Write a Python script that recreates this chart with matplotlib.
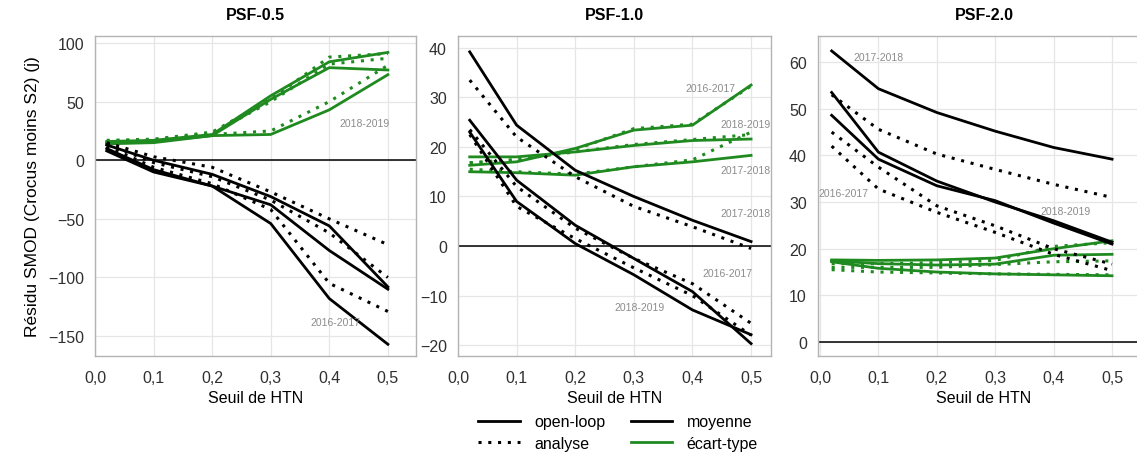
import numpy as np
import matplotlib
matplotlib.use('Agg')
import matplotlib.pyplot as plt
from matplotlib.lines import Line2D
from matplotlib.ticker import FuncFormatter

plt.rcParams['font.family'] = ['Liberation Sans', 'DejaVu Sans']

seuils = [0.02, 0.1, 0.2, 0.3, 0.4, 0.5]
annees = ['2016-2017', '2017-2018', '2018-2019']
psf_titles = ['PSF-0.5', 'PSF-1.0', 'PSF-2.0']

# moyenne (black) : open-loop / analyse for each year
psf05_moy_ol = [[10, -8, -22, -54, -118, -157],
                [8, -10, -22, -38, -77, -110],
                [13, 0, -12, -31, -56, -108]]
psf05_moy_an = [[12, -6, -20, -42, -105, -129],
                [14, -2, -14, -34, -62, -100],
                [15, 3, -6, -27, -50, -72]]
# ecart-type (green)
psf05_et_ol = [[16, 17, 22, 55, 84, 92],
               [15, 16, 21, 52, 79, 77],
               [14, 15, 21, 22, 43, 73]]
psf05_et_an = [[17, 18, 24, 52, 88, 91],
               [16, 17, 23, 50, 82, 87],
               [16, 17, 22, 25, 50, 81]]

psf10_moy_ol = [[25.4, 13.3, 4.2, -2.5, -9.2, -19.7],
                [39.2, 24.4, 15.3, 10, 5.2, 0.9],
                [23, 9, 0.5, -5.8, -12.9, -17.9]]
psf10_moy_an = [[23.5, 12, 3.6, -2.5, -7.6, -15.6],
                [33.5, 22, 14, 8, 3.9, -0.5],
                [22.5, 8, 1.5, -4.4, -10, -18]]
psf10_et_ol = [[16.3, 17, 19.7, 23.4, 24.4, 32.5],
               [15, 14.8, 14.3, 16, 17, 18.3],
               [18, 18, 19, 20.3, 21.3, 21.6]]
psf10_et_an = [[16.8, 17.2, 19.5, 23.7, 24.6, 32.3],
               [15.5, 15, 14.5, 16, 17.4, 23],
               [16.8, 17.5, 19, 20.5, 21.5, 22.5]]

psf20_moy_ol = [[53.5, 40.7, 34.5, 30, 26, 21.4],
                [62.4, 54.3, 49.2, 45.2, 41.7, 39.2],
                [48.6, 39.2, 33.5, 30.3, 25.5, 21]]
psf20_moy_an = [[45, 37.5, 29.2, 24.9, 20, 16.7],
                [53, 45.6, 40.3, 37, 33.8, 31],
                [42, 32.8, 27.8, 23.5, 18.8, 15.3]]
psf20_et_ol = [[17.6, 17.5, 17.6, 18, 20, 21.7],
               [17.4, 16.8, 16.5, 16.7, 18.6, 18.8],
               [17.2, 15.8, 15, 14.6, 14.4, 14.2]]
psf20_et_an = [[16.8, 16.8, 17, 17.5, 20.5, 21.3],
               [16, 16, 16, 16.6, 17.2, 17.4],
               [15.5, 15, 14.8, 14.6, 14.5, 14.4]]

# year labels (x, y, text) per panel
labels05 = [(0.46, 32, '2018-2019'), (0.41, -138, '2016-2017')]
labels10 = [(0.43, 32.0, '2016-2017'), (0.49, 24.6, '2018-2019'),
            (0.49, 15.3, '2017-2018'), (0.49, 6.7, '2017-2018'),
            (0.46, -5.5, '2016-2017'), (0.31, -12.4, '2018-2019')]
labels20 = [(0.1, 61, '2017-2018'), (0.04, 32, '2016-2017'),
            (0.42, 28, '2018-2019')]

W, H = 1137, 456
GREEN = '#1f8a1f'
DOT = (0, (1, 2.2))


def draw_panel(fig, rect, title, ylim, yticks, xmin, xmax,
               moy_ol, moy_an, et_ol, et_an, labels):
    l, t, r, b = rect
    ax = fig.add_axes([l / W, 1 - b / H, (r - l) / W, (b - t) / H])
    ax.set_xlim(xmin, xmax)
    ax.set_ylim(*ylim)
    ax.set_xticks([0, 0.1, 0.2, 0.3, 0.4, 0.5])
    ax.set_yticks(yticks)
    ax.xaxis.set_major_formatter(FuncFormatter(lambda v, p: ('%.1f' % v).replace('.', ',')))
    ax.yaxis.set_major_formatter(FuncFormatter(lambda v, p: ('%g' % v).replace('-', '\u2212')))
    ax.grid(True, color='#e6e6e6', lw=0.9)
    ax.set_axisbelow(True)
    for s in ax.spines.values():
        s.set_color('#b3b3b3')
        s.set_linewidth(1.0)
    ax.tick_params(length=0, labelsize=11.5, colors='#303030')
    ax.tick_params(axis='x', pad=10)
    ax.tick_params(axis='y', pad=8)
    ax.axhline(0, color='black', lw=1.1, zorder=1)
    for i in range(3):
        ax.plot(seuils, et_an[i], color=GREEN, lw=2.2, ls=DOT, zorder=2)
        ax.plot(seuils, et_ol[i], color=GREEN, lw=2.0, zorder=2)
        ax.plot(seuils, moy_an[i], color='black', lw=2.2, ls=DOT, zorder=3)
        ax.plot(seuils, moy_ol[i], color='black', lw=2.0, zorder=3)
    for x, y, txt in labels:
        ax.text(x, y, txt, fontsize=7.5, color='#8c8c8c', ha='center', va='center', zorder=4)
    ax.set_title(title, fontsize=11.5, fontweight='bold', pad=12)
    ax.set_xlabel('Seuil de HTN', fontsize=11.5, labelpad=4)
    return ax


fig = plt.figure(figsize=(W / 100, H / 100), dpi=100)

ax1 = draw_panel(fig, (95, 37, 416, 357), psf_titles[0], (-167, 106),
                 [-150, -100, -50, 0, 50, 100], 0, 0.548,
                 psf05_moy_ol, psf05_moy_an, psf05_et_ol, psf05_et_an, labels05)
ax1.set_ylabel('Résidu SMOD (Crocus moins S2) (j)', fontsize=12.5, labelpad=6)

draw_panel(fig, (458, 37, 771, 357), psf_titles[1], (-22.2, 42.4),
           [-20, -10, 0, 10, 20, 30, 40], 0, 0.534,
           psf10_moy_ol, psf10_moy_an, psf10_et_ol, psf10_et_an, labels10)

draw_panel(fig, (818, 37, 1150, 357), psf_titles[2], (-3.0, 65.6),
           [0, 10, 20, 30, 40, 50, 60], -0.0034, 0.565,
           psf20_moy_ol, psf20_moy_an, psf20_et_ol, psf20_et_an, labels20)

handles = [Line2D([], [], color='black', lw=2.0),
           Line2D([], [], color='black', lw=2.2, ls=DOT),
           Line2D([], [], color='black', lw=2.0),
           Line2D([], [], color=GREEN, lw=2.0)]
names = ['open-loop', 'analyse', 'moyenne', 'écart-type']
fig.legend(handles, names, ncol=2, loc='upper center',
           bbox_to_anchor=(618 / W, 1 - 401 / H), frameon=False,
           fontsize=11.5, handlelength=2.6, columnspacing=1.6,
           handletextpad=0.9, labelspacing=0.42)

fig.savefig('out.png', dpi=100)
